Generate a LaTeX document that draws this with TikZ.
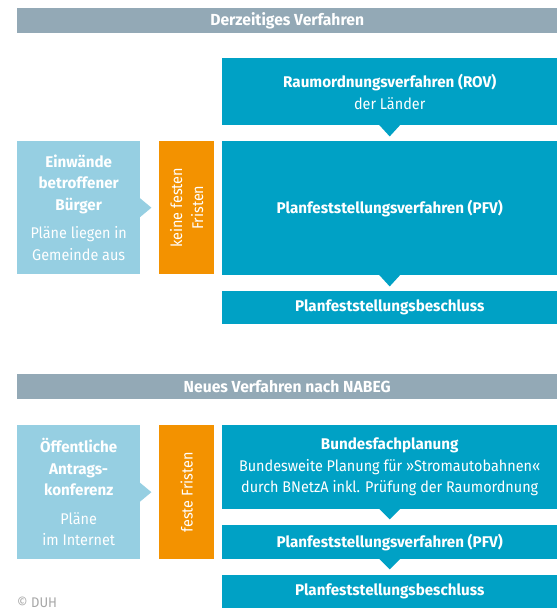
\documentclass[tikz,border=0pt]{standalone}
\usepackage{fontspec}
\setmainfont{Fira Sans}[UprightFeatures={FakeStretch=0.93},BoldFeatures={FakeStretch=0.98}]
\definecolor{barGrey}{HTML}{93A9B6}
\definecolor{boxBlue}{HTML}{00A1C5}
\definecolor{lightBlue}{HTML}{96CFE2}
\definecolor{fristOrange}{HTML}{F39200}
\tikzset{
  bar/.style={fill=barGrey, text=white, font=\fontsize{16}{21}\selectfont\bfseries,
    anchor=north west, inner sep=0pt, minimum width=540pt, minimum height=25pt},
  bluebox/.style={fill=boxBlue, text=white, font=\fontsize{15.5}{21.5}\selectfont,
    anchor=north west, inner sep=0pt, align=center, minimum width=335pt},
  lightbox/.style={fill=lightBlue, text=white, font=\fontsize{15.5}{21.5}\selectfont,
    anchor=north west, inner sep=0pt, align=center, minimum width=123pt},
  fristbox/.style={fill=fristOrange, text=white, font=\fontsize{15.5}{21}\selectfont,
    anchor=north west, inner sep=0pt, minimum width=55pt},
}
\begin{document}
\begin{tikzpicture}[x=1pt,y=-1pt]
            \useasboundingbox (0,0) rectangle (557,611);

            % derzeitiges Verfahren
            \node[bar] (A) at (17, 8) {Derzeitiges Verfahren};
            \node[bluebox,minimum height=67pt] (B) at (222, 58) {\textbf{Raumordnungsverfahren (ROV)}\\ der Länder};
            \node[lightbox,minimum height=133pt] (C) at (17, 141) {\textbf{Einwände}\\ \textbf{betroffener}\\ \textbf{Bürger}\\[7pt] Pläne liegen in\\ Gemeinde aus};
            \node[fristbox,minimum height=133pt] (D) at (159, 141) {};
            \node[rotate=90,text=white,align=center,font=\fontsize{15.5}{21}\selectfont] (D1) at (D.center) {keine festen\\ Fristen};
            \node[bluebox,minimum height=134pt,font=\fontsize{15.5}{21}\selectfont\bfseries] (E) at (222, 141) {Planfeststellungsverfahren (PFV)};
            \node[bluebox,minimum height=33pt,font=\fontsize{15.5}{21}\selectfont\bfseries] (F) at (222, 291) {Planfeststellungsbeschluss};

            \fill[boxBlue] ([xshift=-11pt,yshift=1pt]B.south) -- ([xshift=11pt,yshift=1pt]B.south) -- ([yshift=-11pt]B.south) -- cycle;
            \fill[boxBlue] ([xshift=-11pt,yshift=1pt]E.south) -- ([xshift=11pt,yshift=1pt]E.south) -- ([yshift=-11pt]E.south) -- cycle;
            \fill[lightBlue] ([xshift=-1pt,yshift=10pt]C.east) -- ([xshift=-1pt,yshift=-10pt]C.east) -- ([xshift=11pt]C.east) -- cycle;

            % neues Verfahren
            \node[bar] (G) at (17, 374) {Neues Verfahren nach NABEG};
            \node[lightbox,minimum height=134pt] (H) at (17, 425) {\textbf{Öffentliche}\\ \textbf{Antrags-}\\ \textbf{konferenz}\\[7pt] Pläne\\ im Internet};
            \node[fristbox,minimum height=134pt] (I) at (159, 425) {};
            \node[rotate=90,text=white,font=\fontsize{15.5}{21}\selectfont] (I1) at (I.center) {feste Fristen};
            \node[bluebox,minimum height=84pt] (J) at (222, 425) {\textbf{Bundesfachplanung}\\ Bundesweite Planung für »Stromautobahnen«\\ durch BNetzA inkl. Prüfung der Raumordnung};
            \node[bluebox,minimum height=34pt,font=\fontsize{15.5}{21}\selectfont\bfseries] (K) at (222, 525) {Planfeststellungsverfahren (PFV)};
            \node[bluebox,minimum height=33pt,font=\fontsize{15.5}{21}\selectfont\bfseries] (L) at (222, 575) {Planfeststellungsbeschluss};

            \fill[boxBlue] ([xshift=-11pt,yshift=1pt]J.south) -- ([xshift=11pt,yshift=1pt]J.south) -- ([yshift=-10pt]J.south) -- cycle;
            \fill[boxBlue] ([xshift=-11pt,yshift=1pt]K.south) -- ([xshift=11pt,yshift=1pt]K.south) -- ([yshift=-10pt]K.south) -- cycle;
            \fill[lightBlue] ([xshift=-1pt,yshift=10pt]H.east) -- ([xshift=-1pt,yshift=-10pt]H.east) -- ([xshift=11pt]H.east) -- cycle;

            \node[anchor=north west,inner sep=0pt,text=gray!70,font=\fontsize{14}{16}\selectfont] (M) at (17, 597) {© DUH};
        \end{tikzpicture}
\end{document}
